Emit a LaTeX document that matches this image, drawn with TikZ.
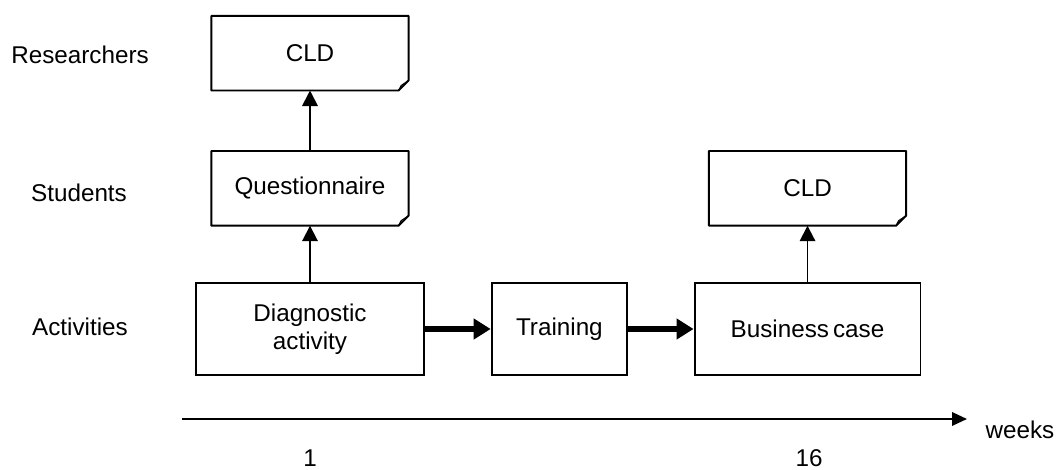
\documentclass[tikz,border=0pt]{standalone}
\usepackage{fontspec}
\setmainfont{Liberation Sans}
\usetikzlibrary{arrows.meta, positioning}

\begin{document}
\begin{tikzpicture}[x=0.02cm, y=-0.02cm, node distance=1.31cm,
    font=\fontsize{13.8}{16}\selectfont,
    box/.style={rectangle, draw, line width=1.1pt, align=center, minimum height=1.834cm, inner sep=2pt},
    doc/.style={rectangle, align=center, minimum width=3.93cm, minimum height=1.48cm, inner sep=2pt,
        append after command={\pgfextra{\let\docnode\tikzlastnode
            \draw[line width=1.1pt, line join=round] (\docnode.north west) -- (\docnode.north east)
                -- ([yshift=0.2cm]\docnode.south east) -- ([xshift=-0.2cm]\docnode.south east)
                -- (\docnode.south west) -- cycle;
            \draw[line width=0.6pt] ([xshift=-0.2cm]\docnode.south east)
                -- ([xshift=-0.15cm, yshift=0.1cm]\docnode.south east)
                -- ([yshift=0.2cm]\docnode.south east);}}},
    link/.style={-{Triangle[length=0.31cm, width=0.31cm]}, line width=1.1pt},
    flow/.style={-{Triangle[length=0.34cm, width=0.4cm]}, line width=3.4pt},
    lane/.style={anchor=center}]
    \useasboundingbox (0,0) rectangle (1059,470);

    % activities row
    \node [box, minimum width=4.57cm] (diag) at (310,329) {Diagnostic\\activity};
    \node [box, minimum width=2.71cm, right=of diag] (train) {Training};
    \node [box, minimum width=4.52cm, right=of train] (bcase) {Business\,case};

    % documents
    \node [doc, above=1.13cm of diag] (quest) {Questionnaire};
    \node [doc, above=1.21cm of quest] (cldR) {CLD};
    \node [doc, above=1.13cm of bcase] (cldS) {CLD};

    % row labels
    \node [lane] (researchers) at (80,55) {Researchers};
    \node [lane] (students) at (79,193) {Students};
    \node [lane] (activities) at (80,327) {Activities};

    \draw [flow] (diag) -- (train);
    \draw [flow] (train) -- (bcase);
    \draw [link] (diag) -- (quest);
    \draw [link] (quest) -- (cldR);
    \draw [link] (bcase) -- (cldS);

    % time axis
    \coordinate (t0) at (182,419);
    \coordinate (t1) at (967,419);
    \draw [-{Triangle[length=0.3cm, width=0.27cm]}, line width=1.1pt] (t0) -- (t1);
    \node (weeks) at (1020,430) {weeks};
    \node (w1) at (310,458) {1};
    \node (w16) at (809,458) {16};
\end{tikzpicture}
\end{document}
